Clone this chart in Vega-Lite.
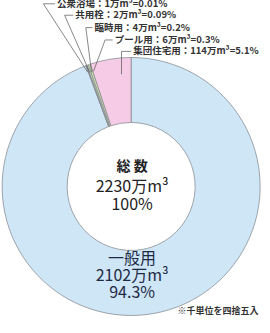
{
  "$schema": "https://vega.github.io/schema/vega-lite/v6.json",
  "width": 270,
  "height": 333,
  "padding": 0,
  "autosize": {"type": "none"},
  "background": "white",
  "config": {"view": {"stroke": null}, "font": "Noto Sans CJK JP", "text": {"font": "Noto Sans CJK JP"}},
  "datasets": {
    "donut": [
      {"name": "一般用", "value": 2102, "ord": 1},
      {"name": "公衆浴場", "value": 1, "ord": 2},
      {"name": "共用栓", "value": 2, "ord": 3},
      {"name": "臨時用", "value": 4, "ord": 4},
      {"name": "プール用", "value": 6, "ord": 5},
      {"name": "集団住宅用", "value": 114, "ord": 6}
    ],
    "callouts": [
      {"name": "公衆浴場", "label": "公衆浴場：1万m³=0.01%", "ax": 91, "ay": 76, "ex": 45, "ey": 4, "tx": 57},
      {"name": "共用栓", "label": "共用栓：2万m³=0.09%", "ax": 93, "ay": 76, "ex": 67, "ey": 16, "tx": 76},
      {"name": "臨時用", "label": "臨時用：4万m³=0.2%", "ax": 95, "ay": 76, "ex": 89, "ey": 29, "tx": 96},
      {"name": "プール用", "label": "プール用：6万m³=0.3%", "ax": 97, "ay": 75, "ex": 109, "ey": 42, "tx": 117},
      {"name": "集団住宅用", "label": "集団住宅用：114万m³=5.1%", "ax": 126, "ay": 78, "ex": 126, "ey": 54, "tx": 136}
    ]
  },
  "layer": [
    {
      "data": {"name": "donut"},
      "mark": {"type": "arc", "outerRadius": 129, "innerRadius": 64, "stroke": "#8a8f96", "strokeWidth": 0.8},
      "encoding": {
        "theta": {"field": "value", "type": "quantitative", "stack": true},
        "order": {"field": "ord", "type": "quantitative"},
        "color": {
          "field": "name",
          "type": "nominal",
          "legend": null,
          "scale": {
            "domain": ["一般用", "公衆浴場", "共用栓", "臨時用", "プール用", "集団住宅用"],
            "range": ["#cfe6f7", "#6f7a9c", "#8d96a8", "#eef2c4", "#cfe8a8", "#f6cbe6"]
          }
        },
        "x": {"datum": 136, "type": "quantitative", "scale": {"domain": [0, 270], "range": [0, 270]}, "axis": null},
        "y": {"datum": 196, "type": "quantitative", "scale": {"domain": [0, 333], "range": [0, 333]}, "axis": null}
      }
    },
    {
      "data": {"name": "callouts"},
      "mark": {"type": "rule", "stroke": "#555", "strokeWidth": 0.7},
      "encoding": {
        "x": {"field": "ax", "type": "quantitative"},
        "y": {"field": "ay", "type": "quantitative"},
        "x2": {"field": "ex"},
        "y2": {"field": "ey"}
      }
    },
    {
      "data": {"name": "callouts"},
      "mark": {"type": "rule", "stroke": "#555", "strokeWidth": 0.7},
      "encoding": {
        "x": {"field": "ex", "type": "quantitative"},
        "y": {"field": "ey", "type": "quantitative"},
        "x2": {"field": "tx"}
      }
    },
    {
      "data": {"name": "callouts"},
      "mark": {"type": "text", "align": "left", "baseline": "middle", "dx": 2, "fontSize": 9.5, "fontWeight": "bold", "fill": "#333"},
      "encoding": {
        "x": {"field": "tx", "type": "quantitative"},
        "y": {"field": "ey", "type": "quantitative"},
        "text": {"field": "label"}
      }
    },
    {
      "data": {"values": [{"t": "総 数"}]},
      "mark": {"type": "text", "align": "center", "baseline": "middle", "fontSize": 14, "fontWeight": "bold", "fill": "#222"},
      "encoding": {
        "x": {"datum": 137, "type": "quantitative"},
        "y": {"datum": 176, "type": "quantitative"},
        "text": {"field": "t"}
      }
    },
    {
      "data": {"values": [{"t": "2230万m³"}]},
      "mark": {"type": "text", "align": "center", "baseline": "middle", "fontSize": 16, "fill": "#222"},
      "encoding": {
        "x": {"datum": 137, "type": "quantitative"},
        "y": {"datum": 197, "type": "quantitative"},
        "text": {"field": "t"}
      }
    },
    {
      "data": {"values": [{"t": "100%"}]},
      "mark": {"type": "text", "align": "center", "baseline": "middle", "fontSize": 16, "fill": "#222"},
      "encoding": {
        "x": {"datum": 137, "type": "quantitative"},
        "y": {"datum": 215, "type": "quantitative"},
        "text": {"field": "t"}
      }
    },
    {
      "data": {"values": [{"t": "一般用"}]},
      "mark": {"type": "text", "align": "center", "baseline": "middle", "fontSize": 16, "fill": "#1e2a44"},
      "encoding": {
        "x": {"datum": 137, "type": "quantitative"},
        "y": {"datum": 272, "type": "quantitative"},
        "text": {"field": "t"}
      }
    },
    {
      "data": {"values": [{"t": "2102万m³"}]},
      "mark": {"type": "text", "align": "center", "baseline": "middle", "fontSize": 16, "fill": "#1e2a44"},
      "encoding": {
        "x": {"datum": 137, "type": "quantitative"},
        "y": {"datum": 290, "type": "quantitative"},
        "text": {"field": "t"}
      }
    },
    {
      "data": {"values": [{"t": "94.3%"}]},
      "mark": {"type": "text", "align": "center", "baseline": "middle", "fontSize": 16, "fill": "#1e2a44"},
      "encoding": {
        "x": {"datum": 137, "type": "quantitative"},
        "y": {"datum": 308, "type": "quantitative"},
        "text": {"field": "t"}
      }
    },
    {
      "data": {"values": [{"t": "※千単位を四捨五入"}]},
      "mark": {"type": "text", "align": "right", "baseline": "middle", "fontSize": 9, "fontWeight": "bold", "fill": "#333"},
      "encoding": {
        "x": {"datum": 268, "type": "quantitative"},
        "y": {"datum": 327, "type": "quantitative"},
        "text": {"field": "t"}
      }
    }
  ]
}
